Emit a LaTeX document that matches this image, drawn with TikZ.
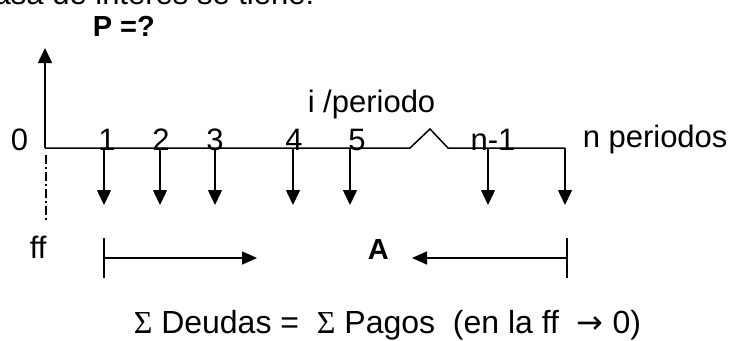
\documentclass[tikz,border=0pt]{standalone}
\usepackage{fontspec}
\setmainfont{Liberation Sans}
\newfontfamily\sigfont{Liberation Serif}
\newfontfamily\flefont{DejaVu Sans}
\usetikzlibrary{arrows.meta, positioning, calc}
\tikzset{every node/.append style={inner sep=0pt}}

\begin{document}
\begin{tikzpicture}[x=1pt, y=-1pt, line width=1.5pt,
    lbl/.style={font=\fontsize{31}{36}\selectfont, anchor=base},
    lblb/.style={font=\fontsize{29}{34}\selectfont\bfseries, anchor=base west},
    pago/.style={-{Triangle[length=15pt, width=14pt]}},
    tramo/.style={-{Triangle[length=15pt, width=13pt]}}]
\useasboundingbox (0,0) rectangle (730,340);
\clip (0,0) rectangle (730,340);
% linea de texto cortada arriba
\node[lbl, anchor=base east] (intro) at (315,5) {tasa de interés se tiene:};
\node[lblb] (pval) at (92,36) {P =?};
% eje de tiempo con corte
\coordinate (o) at (45,148);
\coordinate (z1) at (410,148);
\coordinate (zt) at (430,129);
\coordinate (z2) at (448,148);
\coordinate (fin) at (565,148);
\draw (o) -- (z1) -- (zt) -- (z2) -- (fin);
\coordinate (ptop) at (45,48);
\draw[pago] (o) -- (ptop);
% marcas de periodo
\node[lbl] (n0) at (19.5,150) {0};
\node[lbl] (n1) at (107,150) {1};
\node[lbl] (n2) at (161,150) {2};
\node[lbl] (n3) at (215,150) {3};
\node[lbl] (n4) at (294,150) {4};
\node[lbl] (n5) at (357,150) {5};
\node[lbl] (nm1) at (493,150) {n-1};
\node[lbl, anchor=base west] (nper) at (582,147) {n periodos};
\node[lbl, anchor=base west] (tasa) at (307,112) {i /periodo};
% pagos
\coordinate (a1) at (104,148); \coordinate (b1) at (104,205);
\coordinate (a2) at (160,148); \coordinate (b2) at (160,205);
\coordinate (a3) at (215,148); \coordinate (b3) at (215,205);
\coordinate (a4) at (293,148); \coordinate (b4) at (293,205);
\coordinate (a5) at (350,148); \coordinate (b5) at (350,205);
\coordinate (a6) at (488,148); \coordinate (b6) at (488,205);
\coordinate (b7) at (565,205);
\draw[pago] (a1) -- (b1);
\draw[pago] (a2) -- (b2);
\draw[pago] (a3) -- (b3);
\draw[pago] (a4) -- (b4);
\draw[pago] (a5) -- (b5);
\draw[pago] (a6) -- (b6);
\draw[pago] (fin) -- (b7);
% fecha focal
\coordinate (ff1) at (46,155);
\coordinate (ff2) at (46,222);
\draw[line width=1.2pt, dash pattern=on 9pt off 3pt on 2pt off 3pt] (ff1) -- (ff2);
\node[lbl, anchor=base west] (ff) at (29,258) {ff};
% tramos hacia A
\coordinate (l1) at (104,238); \coordinate (l2) at (104,278);
\coordinate (lm) at (104,258); \coordinate (lt) at (257,258);
\coordinate (r1) at (567,238); \coordinate (r2) at (567,278);
\coordinate (rm) at (567,258); \coordinate (rt) at (412,258);
\draw (l1) -- (l2);
\draw (r1) -- (r2);
\draw[tramo] (lm) -- (lt);
\draw[tramo] (rm) -- (rt);
\node[lblb] (anual) at (367,259) {A};
% ecuacion de valor
\node[lbl, anchor=base west, font=\fontsize{32}{36}\selectfont] (eq) at (133,333)
    {{\sigfont Σ} Deudas = \ {\sigfont Σ} Pagos \ (en la ff \ {\flefont →} 0)};
\end{tikzpicture}
\end{document}
